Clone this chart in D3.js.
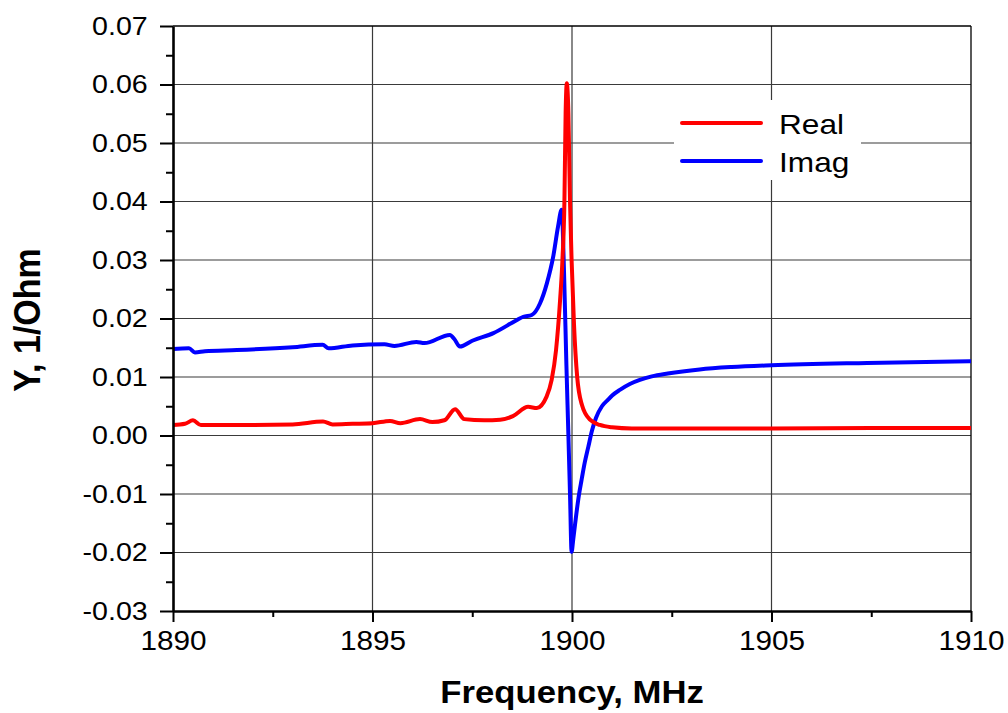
<!DOCTYPE html>
<html>
<head>
<meta charset="utf-8">
<script src="https://cdn.jsdelivr.net/npm/d3@7"></script>
<style>
    body { margin: 0; background: #fff; }
    text { font-family: "Liberation Sans", Arial, sans-serif; fill: #000; }
</style>
</head>
<body>
<div id="chart"></div>
<script>
'use strict';

// frequency, MHz
var realFreq = [1890.0, 1890.3, 1890.5, 1890.7, 1891.5, 1893.0, 1893.76, 1894.0, 1894.5, 1895.0,
    1895.44, 1895.7, 1896.19, 1896.5, 1896.8, 1897.07, 1897.3, 1897.8, 1898.2, 1898.52,
    1898.9, 1899.12, 1899.36, 1899.49, 1899.6, 1899.7, 1899.76, 1899.81, 1899.84, 1899.87,
    1899.91, 1899.95, 1899.99, 1900.05, 1900.13, 1900.25, 1900.45, 1900.7, 1901.0, 1901.5,
    1903.0, 1905.0, 1907.5, 1910.0];
var realVal = [0.0018, 0.0020, 0.0026, 0.0018, 0.0018, 0.0019, 0.0024, 0.0019, 0.0020, 0.0021,
    0.0025, 0.0021, 0.0028, 0.0023, 0.0026, 0.0045, 0.0028, 0.0026, 0.0027, 0.0033,
    0.0049, 0.0047, 0.0066, 0.0095, 0.0146, 0.0230, 0.0300, 0.0400, 0.0550, 0.0602,
    0.0550, 0.0400, 0.0300, 0.0190, 0.0100, 0.0052, 0.0027, 0.0018, 0.0014, 0.0012,
    0.0012, 0.0012, 0.0013, 0.0013];

var imagFreq = [1890.0, 1890.4, 1890.55, 1890.8, 1891.6, 1893.0, 1893.75, 1893.9, 1894.5, 1895.3,
    1895.55, 1896.1, 1896.3, 1896.94, 1897.05, 1897.19, 1897.5, 1898.03, 1898.61, 1898.78,
    1898.99, 1899.2, 1899.37, 1899.53, 1899.65, 1899.74, 1899.8, 1899.86, 1899.91, 1899.95,
    1899.99, 1900.03, 1900.08, 1900.16, 1900.24, 1900.32, 1900.41, 1900.5, 1900.6, 1900.75,
    1900.9, 1901.0, 1901.2, 1901.45, 1901.7, 1902.0, 1902.4, 1903.2, 1904.0, 1905.0,
    1907.4, 1910.0];
var imagVal = [0.0148, 0.0149, 0.0142, 0.0144, 0.0146, 0.0151, 0.0155, 0.0149, 0.0154, 0.0156,
    0.0153, 0.0160, 0.0158, 0.0172, 0.0165, 0.0152, 0.0162, 0.0175, 0.0197, 0.0203,
    0.0206, 0.0226, 0.0260, 0.0306, 0.0357, 0.0386, 0.0280, 0.0120, 0.0000, -0.0100,
    -0.0199, -0.0178, -0.0150, -0.0108, -0.0076, -0.0046, -0.0019, 0.0008, 0.0030, 0.0050,
    0.0061, 0.0068, 0.0078, 0.0088, 0.0095, 0.0101, 0.0106, 0.0113, 0.0117, 0.0120,
    0.0124, 0.0127];

var xTicks = [1890, 1895, 1900, 1905, 1910];
var yTicks = [-0.03, -0.02, -0.01, 0.00, 0.01, 0.02, 0.03, 0.04, 0.05, 0.06, 0.07];
var legendNames = ["Real", "Imag"];

drawChart();

function drawChart() {
    var width = 1008;
    var height = 713;
    var pLeft = 173, pRight = 971, pTop = 26, pBottom = 611;
    var stretch = 1.1;

    var x = d3.scaleLinear().domain([1890, 1910]).range([pLeft, pRight]);
    var y = d3.scaleLinear().domain([-0.03, 0.07]).range([pBottom, pTop]);

    var svg = d3.select("#chart").append("svg")
        .attr("width", width)
        .attr("height", height);

    // grid
    var grid = svg.append("g").attr("class", "grid");
    yTicks.slice(1, -1).forEach(function (t) {
        grid.append("line")
            .attr("x1", pLeft).attr("x2", pRight)
            .attr("y1", y(t)).attr("y2", y(t))
            .attr("stroke", "#3a3a3a").attr("stroke-width", 1.2);
    });
    xTicks.slice(1, -1).forEach(function (t) {
        grid.append("line")
            .attr("x1", x(t)).attr("x2", x(t))
            .attr("y1", pTop).attr("y2", pBottom)
            .attr("stroke", "#3a3a3a").attr("stroke-width", 1.2);
    });

    // frame top / right
    svg.append("line").attr("x1", pLeft).attr("x2", pRight).attr("y1", pTop).attr("y2", pTop)
        .attr("stroke", "#000").attr("stroke-width", 1.3);
    svg.append("line").attr("x1", pRight).attr("x2", pRight).attr("y1", pTop).attr("y2", pBottom)
        .attr("stroke", "#000").attr("stroke-width", 1.3);

    // curves
    var line = d3.line()
        .x(function (d) { return x(d[0]); })
        .y(function (d) { return y(d[1]); })
        .curve(d3.curveMonotoneX);

    var realData = realFreq.map(function (f, i) { return [f, realVal[i]]; });
    var imagData = imagFreq.map(function (f, i) { return [f, imagVal[i]]; });

    svg.append("path").datum(imagData)
        .attr("d", line).attr("fill", "none")
        .attr("stroke", "#0000ff").attr("stroke-width", 4)
        .attr("stroke-linejoin", "round");
    svg.append("path").datum(realData)
        .attr("d", line).attr("fill", "none")
        .attr("stroke", "#ff0000").attr("stroke-width", 4)
        .attr("stroke-linejoin", "round");

    // minor ticks
    var yMinor = d3.range(-0.025, 0.07, 0.01);
    var xMinor = [1892.5, 1897.5, 1902.5, 1907.5];

    svg.append("g")
        .attr("transform", "translate(" + pLeft + ",0)")
        .call(d3.axisLeft(y).tickValues(yMinor).tickSize(7).tickSizeOuter(0).tickFormat(""))
        .call(function (g) { g.select(".domain").remove(); })
        .selectAll("line").attr("stroke-width", 2);

    svg.append("g")
        .attr("transform", "translate(0," + pBottom + ")")
        .call(d3.axisBottom(x).tickValues(xMinor).tickSize(6).tickSizeOuter(0).tickFormat(""))
        .call(function (g) { g.select(".domain").remove(); })
        .selectAll("line").attr("stroke-width", 2);

    // major axes
    var yAxis = svg.append("g")
        .attr("transform", "translate(" + pLeft + ",0)")
        .call(d3.axisLeft(y).tickValues(yTicks).tickSize(13).tickSizeOuter(0).tickPadding(10));
    yAxis.select(".domain").attr("stroke-width", 2.6);
    yAxis.selectAll(".tick line").attr("stroke-width", 2);
    yAxis.selectAll("text")
        .attr("font-size", 26)
        .attr("font-family", "Liberation Sans, Arial, sans-serif")
        .attr("transform", "scale(" + stretch + ",1)")
        .text(function (d) { return d3.format(".2f")(d).replace("\u2212", "-"); });

    var xAxis = svg.append("g")
        .attr("transform", "translate(0," + pBottom + ")")
        .call(d3.axisBottom(x).tickValues(xTicks).tickSize(11).tickSizeOuter(0).tickPadding(9)
            .tickFormat(d3.format("d")));
    xAxis.select(".domain").attr("stroke-width", 2.6);
    xAxis.selectAll(".tick line").attr("stroke-width", 2);
    xAxis.selectAll("text")
        .attr("font-size", 27)
        .attr("font-family", "Liberation Sans, Arial, sans-serif")
        .attr("transform", "scale(" + stretch + ",1)");

    // titles
    svg.append("text")
        .attr("transform", "translate(572,703) scale(1.12,1)")
        .attr("text-anchor", "middle")
        .attr("font-size", 31)
        .attr("font-weight", "bold")
        .text("Frequency, MHz");

    svg.append("text")
        .attr("transform", "translate(40,320) rotate(-90) scale(1,1.1)")
        .attr("text-anchor", "middle")
        .attr("font-size", 34)
        .attr("font-weight", "bold")
        .text("Y, 1/Ohm");

    // legend
    var legend = svg.append("g").attr("class", "legend");
    legend.append("rect")
        .attr("x", 674).attr("y", 100).attr("width", 187).attr("height", 80)
        .attr("fill", "#fff");
    var legendColors = ["#ff0000", "#0000ff"];
    legendNames.forEach(function (name, i) {
        var ly = 123 + i * 38;
        legend.append("line")
            .attr("x1", 682).attr("x2", 761)
            .attr("y1", ly).attr("y2", ly)
            .attr("stroke", legendColors[i]).attr("stroke-width", 4)
            .attr("stroke-linecap", "round");
        legend.append("text")
            .attr("transform", "translate(779," + (ly + 11) + ") scale(1.13,1)")
            .attr("font-size", 28)
            .text(name);
    });
}
</script>
</body>
</html>
